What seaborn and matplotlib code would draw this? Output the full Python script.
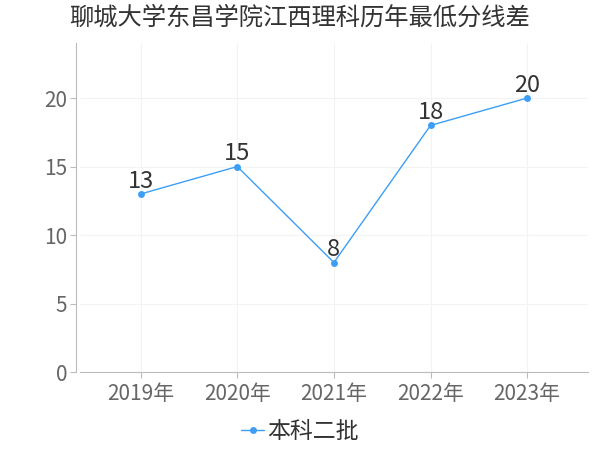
import matplotlib.pyplot as plt
import seaborn as sns
import pandas as pd

# 数据
years = ['2019年', '2020年', '2021年', '2022年', '2023年']
diffs = [13, 15, 8, 18, 20]
series_name = '本科二批'

df = pd.DataFrame({'year': years, 'diff': diffs})

sns.set_style('white')
plt.rcParams['font.family'] = ['Noto Sans CJK SC', 'DejaVu Sans']

fig = plt.figure(figsize=(6, 4.5), dpi=100)
ax = fig.add_axes([0.133, 0.173, 0.847, 0.731])

color = '#3d9ef5'
sns.lineplot(data=df, x='year', y='diff', ax=ax, color=color, marker='o',
             markersize=5, markeredgewidth=0, linewidth=1, label=series_name, sort=False)

for i, v in enumerate(diffs):
    ax.text(i, v + 0.1, str(v), ha='center', va='bottom', fontsize=17, color='#333333')

ax.set_xlim(-0.63, 4.63)
ax.set_ylim(0, 24)
ax.set_yticks([0, 5, 10, 15, 20])
ax.grid(True, color='#f3f3f3', linewidth=0.8)
ax.set_xlabel('')
ax.set_ylabel('')

for s in ['top', 'right']:
    ax.spines[s].set_visible(False)
ax.spines['left'].set_color('#bbbbbb')
ax.spines['bottom'].set_color('#bbbbbb')
ax.spines['left'].set_position(('outward', 3))
ax.spines['left'].set_bounds(0, 24)
ax.tick_params(axis='both', colors='#bbbbbb', labelcolor='#666666', labelsize=15,
               length=4, width=0.8, direction='out')
ax.tick_params(axis='y', pad=2)
ax.tick_params(axis='x', pad=4)
ax.tick_params(left=True, bottom=True)

handles, labels = ax.get_legend_handles_labels()
ax.get_legend().remove()
fig.legend(handles, labels, loc='center', bbox_to_anchor=(0.5, 0.04), frameon=False,
           fontsize=16.5, handlelength=1.0, handletextpad=0.15, labelcolor='#333333')

fig.suptitle('聊城大学东昌学院江西理科历年最低分线差', x=0.5, y=0.99, fontsize=17.5, color='#333333')

fig.savefig('out.png')
